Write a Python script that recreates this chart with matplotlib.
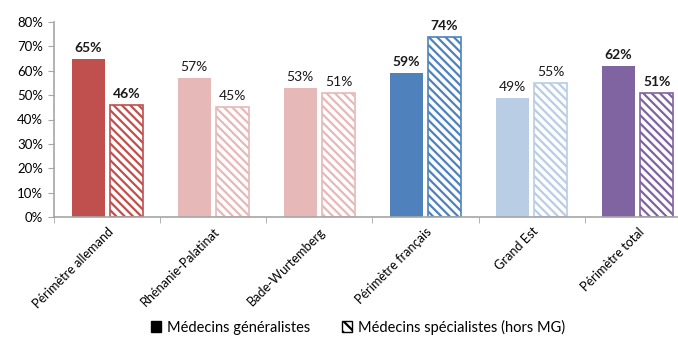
import matplotlib.pyplot as plt
import matplotlib as mpl
import numpy as np
from matplotlib.patches import Patch

plt.rcParams['font.family'] = ['Lato', 'DejaVu Sans']
mpl.rcParams['hatch.linewidth'] = 1.6

categories = ["Périmètre allemand", "Rhénanie-Palatinat", "Bade-Wurtemberg",
              "Périmètre français", "Grand Est", "Périmètre total"]
generalistes = [65, 57, 53, 59, 49, 62]
specialistes = [46, 45, 51, 74, 55, 51]
colors = ["#C0504D", "#E6B9B8", "#E6B9B8", "#4F81BD", "#B9CDE5", "#8064A2"]
bold = [True, False, False, True, False, True]

fig = plt.figure(figsize=(6.78, 3.41), dpi=100)
# plot area runs past the right edge, so the last group gets cut off
ax = fig.add_axes([54.3 / 678, 1 - 217 / 341, (690.6 - 54.3) / 678, 195 / 341])

x = np.arange(len(categories))
w = 0.31
off = 0.18

for i in range(len(categories)):
    ax.bar(x[i] - off, generalistes[i], w, color=colors[i], linewidth=0)
    ax.bar(x[i] + off, specialistes[i], w, facecolor="white", edgecolor=colors[i],
           hatch="\\\\\\\\", linewidth=1.2)
    wt = "bold" if bold[i] else "normal"
    ax.text(x[i] - off, generalistes[i] + 2, f"{generalistes[i]}%", ha="center",
            va="bottom", fontsize=10, fontweight=wt, color="#1a1a1a")
    ax.text(x[i] + off, specialistes[i] + 2, f"{specialistes[i]}%", ha="center",
            va="bottom", fontsize=10, fontweight=wt, color="#1a1a1a")

ax.set_xlim(-0.5, 5.5)
ax.set_ylim(0, 80)
ax.set_yticks(range(0, 81, 10))
ax.set_yticklabels([f"{v}%" for v in range(0, 81, 10)], fontsize=9.5)

ax.set_xticks(x)
ax.set_xticklabels(categories, rotation=45, ha="right", rotation_mode="anchor",
                   fontsize=9.2)
ax.tick_params(axis="x", length=0, pad=6)
ax.set_xticks(np.arange(-0.5, 6, 1), minor=True)
ax.tick_params(axis="x", which="minor", length=4, color="#A6A6A6")
ax.tick_params(axis="y", length=4, color="#A6A6A6", pad=4)

for s in ["top", "right"]:
    ax.spines[s].set_visible(False)
for s in ["left", "bottom"]:
    ax.spines[s].set_color("#A6A6A6")
    ax.spines[s].set_linewidth(1.2)

handles = [Patch(facecolor="black", edgecolor="black"),
           Patch(facecolor="white", edgecolor="black", hatch="\\\\\\")]
fig.legend(handles, ["Médecins généralistes", "Médecins spécialistes (hors MG)"],
           loc="center", bbox_to_anchor=(358 / 678, 1 - 327 / 341), ncol=2,
           frameon=False, fontsize=10.5, handlelength=0.7, handleheight=0.7,
           handletextpad=0.4, columnspacing=2.2)

fig.savefig("out.png", dpi=100)
